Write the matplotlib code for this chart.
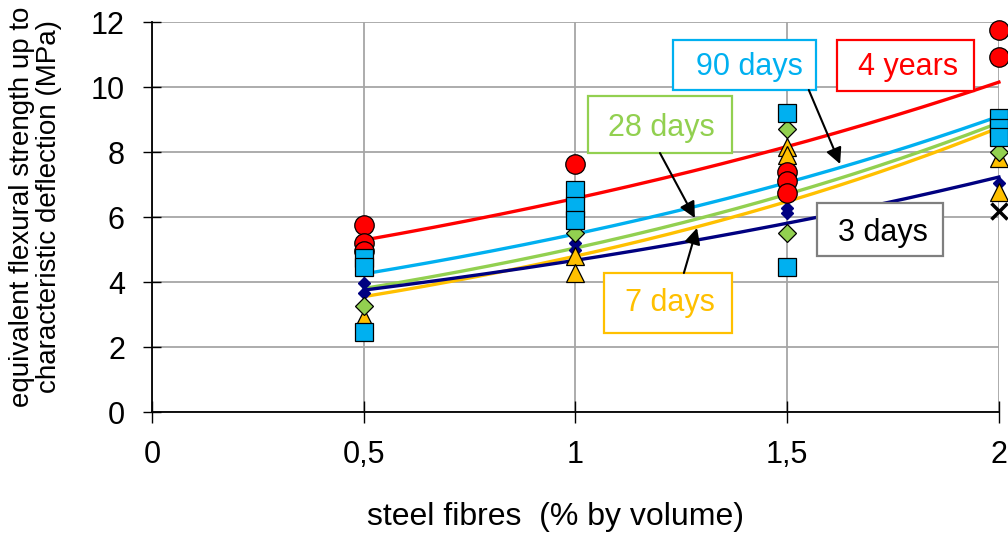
import numpy as np
import matplotlib
matplotlib.use("Agg")
import matplotlib.pyplot as plt
from matplotlib.patches import Rectangle

plt.rcParams['font.family'] = ['Liberation Sans', 'DejaVu Sans']

# Specimen results: steel fibre dosage (% by volume) and strength (MPa)
yr4_x = [0.5, 0.5, 0.5, 1.0, 1.5, 1.5, 1.5, 2.0, 2.0]
yr4_y = [5.75, 5.2, 4.95, 7.63, 7.38, 7.12, 6.75, 11.75, 10.92]

d90_x = [0.5, 0.5, 0.5, 1.0, 1.0, 1.0, 1.5, 1.5, 2.0, 2.0, 2.0]
d90_y = [4.75, 4.45, 2.45, 6.82, 6.35, 5.9, 9.2, 4.46, 9.05, 8.75, 8.45]

d28_x = [0.5, 1.0, 1.5, 1.5, 2.0]
d28_y = [3.25, 5.5, 8.7, 5.5, 8.0]

d7_x = [0.5, 1.0, 1.0, 1.5, 1.5, 2.0, 2.0]
d7_y = [2.9, 4.8, 4.28, 8.15, 7.9, 7.82, 6.77]

d3_x = [0.5, 0.5, 1.0, 1.0, 1.5, 1.5, 2.0]
d3_y = [3.97, 3.66, 5.2, 4.98, 6.28, 6.12, 7.05]

extra_x = [2.0]
extra_y = [6.2]

# Exponential trend lines: value at 0.5 % and at 2 %
trend_names = ['4 years', '90 days', '28 days', '7 days', '3 days']
trend_start = [5.29, 4.25, 3.8, 3.55, 3.75]
trend_end = [10.15, 9.1, 8.9, 8.75, 7.23]

x_ticks = [0, 0.5, 1, 1.5, 2]
x_tick_labels = ['0', '0,5', '1', '1,5', '2']
y_ticks = [0, 2, 4, 6, 8, 10, 12]

RED = '#FF0000'
BLUE = '#00B0F0'
GREEN = '#92D050'
ORANGE = '#FFC000'
NAVY = '#000080'
trend_colors = [RED, BLUE, GREEN, ORANGE, NAVY]

fig = plt.figure(figsize=(10.08, 5.33), dpi=100)
ax = fig.add_axes([0.1508, 0.227, 0.8402, 0.7317])

ax.set_xlim(0, 2)
ax.set_ylim(0, 12)
ax.set_xticks(x_ticks)
ax.set_xticklabels(x_tick_labels)
ax.set_yticks(y_ticks)

for s in ['top', 'right']:
    ax.spines[s].set_visible(False)
for s in ['left', 'bottom']:
    ax.spines[s].set_color('black')
    ax.spines[s].set_linewidth(1.3)

ax.grid(True, color='#A6A6A6', linewidth=1.3)
ax.set_axisbelow(True)
ax.tick_params(axis='both', direction='inout', width=1.0,
               labelsize=22, colors='black')
ax.tick_params(axis='x', length=16, pad=12)
ax.tick_params(axis='y', length=13, pad=13)

# trend curves
xs = np.linspace(0.5, 2.0, 200)
for y0, y1, c in zip(trend_start, trend_end, trend_colors):
    ys = y0 * (y1 / y0) ** ((xs - 0.5) / 1.5)
    ax.plot(xs, ys, color=c, linewidth=2.4, zorder=3, clip_on=False)

# specimen markers
ax.plot(d3_x, d3_y, linestyle='none', marker='D', markersize=6.5,
        markerfacecolor=NAVY, markeredgecolor=NAVY, zorder=4, clip_on=False)
ax.plot(d7_x, d7_y, linestyle='none', marker='^', markersize=13,
        markerfacecolor=ORANGE, markeredgecolor='black', markeredgewidth=0.9,
        zorder=5, clip_on=False)
ax.plot(d28_x, d28_y, linestyle='none', marker='D', markersize=9.5,
        markerfacecolor=GREEN, markeredgecolor='black', markeredgewidth=0.9,
        zorder=6, clip_on=False)
ax.plot(yr4_x, yr4_y, linestyle='none', marker='o', markersize=14,
        markerfacecolor=RED, markeredgecolor='black', markeredgewidth=0.9,
        zorder=7, clip_on=False)
ax.plot(d90_x, d90_y, linestyle='none', marker='s', markersize=13.5,
        markerfacecolor=BLUE, markeredgecolor='black', markeredgewidth=0.9,
        zorder=8, clip_on=False)
ax.plot(extra_x, extra_y, linestyle='none', marker='x', markersize=12,
        markeredgecolor='black', markeredgewidth=2.5, zorder=9, clip_on=False)

fig.text(0.5506, 0.030, 'steel fibres  (% by volume)', fontsize=23,
         ha='center', va='center')
fig.text(0.035, 0.612,
         'equivalent flexural strength up to\ncharacteristic deflection (MPa)',
         fontsize=20, rotation=90, ha='center', va='center',
         multialignment='center', linespacing=1.05)

# series label boxes
boxes = [
    ('90 days', BLUE, BLUE, (1.230, 9.908, 0.338, 1.538), (1.410, 10.62)),
    ('4 years', RED, RED, (1.617, 9.877, 0.324, 1.569), (1.785, 10.62)),
    ('28 days', GREEN, GREEN, (1.030, 7.969, 0.340, 1.754), (1.204, 8.73)),
    ('7 days', ORANGE, ORANGE, (1.067, 2.431, 0.303, 1.846), (1.223, 3.34)),
    ('3 days', '#7F7F7F', 'black', (1.570, 4.800, 0.298, 1.631), (1.726, 5.50)),
]
for text, ec, tc, (bx, by, bw, bh), (tx, ty) in boxes:
    ax.add_patch(Rectangle((bx, by), bw, bh, facecolor='white', edgecolor=ec,
                           linewidth=1.6, zorder=10, clip_on=False))
    ax.text(tx, ty, text, color=tc, fontsize=22, ha='center', va='center',
            zorder=11)

arrows = [
    ((1.551, 9.908), (1.625, 7.631)),
    ((1.1995, 7.969), (1.282, 5.969)),
    ((1.256, 4.277), (1.287, 5.662)),
]
for start, end in arrows:
    ax.annotate('', xy=end, xytext=start,
                arrowprops=dict(arrowstyle='-|>', color='black', lw=1.5,
                                mutation_scale=24, shrinkA=0, shrinkB=0),
                zorder=12)

fig.savefig('out.png', dpi=100)
